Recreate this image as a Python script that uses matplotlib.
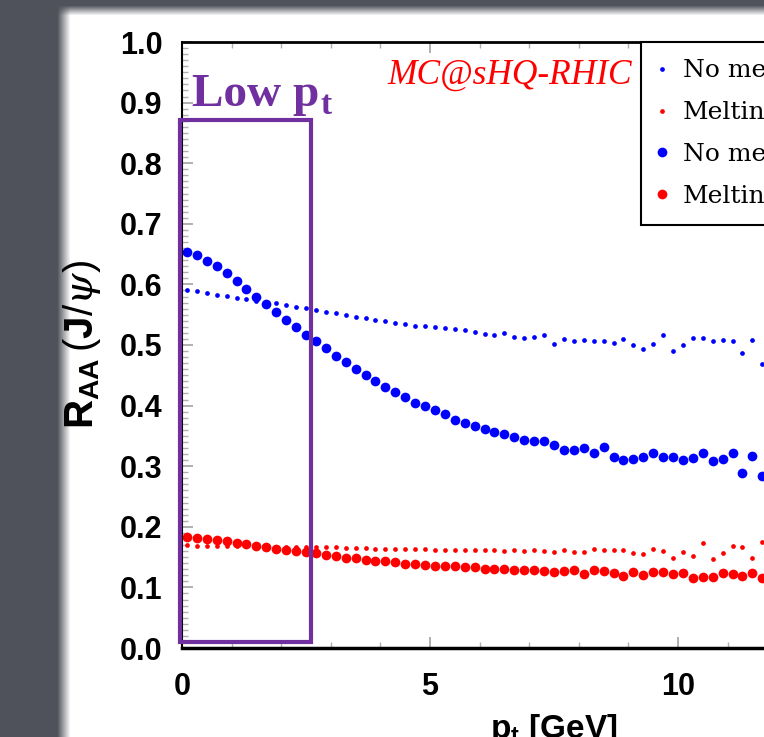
import numpy as np
import matplotlib.pyplot as plt
from matplotlib.patches import Rectangle

plt.rcParams['mathtext.fontset'] = 'custom'
plt.rcParams['mathtext.rm'] = 'Liberation Sans'
plt.rcParams['mathtext.bf'] = 'Liberation Sans:bold'
plt.rcParams['mathtext.it'] = 'DejaVu Serif:italic'

# pt bin centres [GeV]
pt = np.round(np.arange(0.1, 11.8, 0.2), 1)

nomelt_small = [0.591, 0.589, 0.586, 0.583, 0.581, 0.578, 0.576, 0.573, 0.571, 0.569,
                0.566, 0.563, 0.561, 0.557, 0.555, 0.552, 0.550, 0.547, 0.545, 0.542,
                0.539, 0.537, 0.535, 0.532, 0.531, 0.529, 0.528, 0.527, 0.524, 0.522,
                0.518, 0.516, 0.520, 0.513, 0.511, 0.514, 0.517, 0.501, 0.510, 0.506,
                0.508, 0.507, 0.507, 0.504, 0.510, 0.500, 0.493, 0.501, 0.517, 0.490,
                0.500, 0.512, 0.511, 0.507, 0.508, 0.506, 0.487, 0.509, 0.468]
melt_small = [0.170, 0.169, 0.169, 0.168, 0.168, 0.168, 0.168, 0.167, 0.167, 0.167,
              0.167, 0.166, 0.166, 0.166, 0.166, 0.166, 0.165, 0.165, 0.165, 0.164,
              0.164, 0.164, 0.163, 0.163, 0.163, 0.162, 0.162, 0.162, 0.162, 0.162,
              0.161, 0.161, 0.160, 0.162, 0.160, 0.161, 0.160, 0.159, 0.162, 0.159,
              0.158, 0.164, 0.161, 0.162, 0.161, 0.156, 0.155, 0.164, 0.160, 0.149,
              0.158, 0.151, 0.173, 0.147, 0.157, 0.169, 0.166, 0.149, 0.175]
nomelt_big = [0.653, 0.649, 0.639, 0.630, 0.618, 0.605, 0.592, 0.580, 0.567, 0.555,
              0.542, 0.530, 0.517, 0.506, 0.495, 0.482, 0.472, 0.460, 0.450, 0.440,
              0.431, 0.422, 0.414, 0.405, 0.399, 0.392, 0.386, 0.377, 0.372, 0.366,
              0.362, 0.356, 0.353, 0.348, 0.344, 0.341, 0.342, 0.335, 0.327, 0.326,
              0.330, 0.322, 0.331, 0.315, 0.310, 0.312, 0.316, 0.322, 0.315, 0.315,
              0.310, 0.314, 0.322, 0.309, 0.312, 0.322, 0.289, 0.317, 0.284]
melt_big = [0.183, 0.182, 0.180, 0.178, 0.176, 0.174, 0.171, 0.169, 0.166, 0.164,
            0.161, 0.160, 0.159, 0.156, 0.154, 0.152, 0.149, 0.148, 0.146, 0.144,
            0.143, 0.142, 0.139, 0.139, 0.137, 0.136, 0.136, 0.135, 0.133, 0.133,
            0.131, 0.130, 0.131, 0.128, 0.129, 0.129, 0.127, 0.126, 0.127, 0.128,
            0.122, 0.128, 0.127, 0.124, 0.119, 0.125, 0.120, 0.125, 0.126, 0.122,
            0.124, 0.115, 0.117, 0.117, 0.124, 0.122, 0.119, 0.124, 0.116]

labels = ['No melting', 'Melting', 'No melting', 'Melting']

W, H = 764, 737
fig = plt.figure(figsize=(W / 100, H / 100), dpi=100, facecolor='#50535c')

# slide background: white panel with soft edge on dark gray
bg = fig.add_axes([0, 0, 1, 1])
bg.set_axis_off()
fx = np.clip((np.arange(W) - 57) / 13.0, 0, 1)
fy = np.clip((np.arange(H) - 5) / 10.0, 0, 1)
a = np.outer(fy, fx)[..., None]
gray = np.array([0x50, 0x53, 0x5c]) / 255.0
bg.imshow(gray * (1 - a) + a, extent=[0, 1, 0, 1], aspect='auto', origin='upper')
bg.set_xlim(0, 1)
bg.set_ylim(0, 1)

ax = fig.add_axes([182 / W, 89 / H, 744 / W, 606 / H])
ax.set_facecolor('white')

ax.plot(pt, nomelt_small, 'o', color='#0000ff', ms=3.4, mew=0, label=labels[0])
ax.plot(pt, melt_small, 'o', color='#ff0000', ms=3.4, mew=0, label=labels[1])
ax.plot(pt, nomelt_big, 'o', color='#0000ff', ms=7.0, mew=0, label=labels[2])
ax.plot(pt, melt_big, 'o', color='#ff0000', ms=7.0, mew=0, label=labels[3])

ax.set_xlim(0, 15)
ax.set_ylim(0, 1)
ax.set_xticks([0, 5, 10, 15])
ax.set_xticks(np.arange(0, 16, 1), minor=True)
ax.set_yticks(np.round(np.arange(0, 1.01, 0.1), 1))
ax.set_yticks(np.round(np.arange(0, 1.001, 0.01), 2), minor=True)
ax.set_yticklabels(['%.1f' % v for v in np.arange(0, 1.01, 0.1)])
ax.tick_params(which='both', direction='in', top=True, right=True, color='#b0b0b0')
ax.tick_params(which='major', length=8, width=1.4)
ax.tick_params(which='minor', length=4, width=1.0)
ax.tick_params(axis='y', pad=14)
ax.tick_params(axis='x', pad=17)
for lab in ax.get_xticklabels() + ax.get_yticklabels():
    lab.set_fontfamily('Liberation Sans')
    lab.set_fontweight('bold')
    lab.set_fontsize(22)

ax.spines['left'].set_linewidth(1.5)
ax.spines['bottom'].set_linewidth(2.5)
ax.spines['top'].set_linewidth(2.0)

ax.set_ylabel(r'$\mathbf{R}_{\mathbf{AA}}\,(\mathbf{J}/\psi)$', fontsize=29)
ax.yaxis.set_label_coords(-0.106, 0.5)
ax.set_xlabel(r'$\mathbf{p_t}$ [GeV]', fontsize=24, fontweight='bold',
              family='Liberation Sans', va='top')
ax.xaxis.set_label_coords(0.5, -0.105)

leg = ax.legend(loc='upper left', bbox_to_anchor=((641 - 182) / 744, 1.0),
                borderaxespad=0, fancybox=False, edgecolor='black', framealpha=1,
                prop={'family': 'DejaVu Serif', 'size': 18}, handlelength=0.3,
                handletextpad=0.68, labelspacing=0.75, borderpad=0.7)
leg.get_frame().set_linewidth(1.5)

# "Low pt" box
ax.add_patch(Rectangle((-0.04, 0.01), 2.64, 0.861, fill=False, ec='#7030a0',
                       lw=3.0, clip_on=False, zorder=5, joinstyle='miter'))
t1 = ax.text(0.2, 0.895, 'Low p', color='#7030a0', fontsize=34, fontweight='bold',
             family='Liberation Serif', va='baseline')
ax.annotate('t', xy=(1, 0), xycoords=t1, xytext=(1, 1), textcoords='offset points',
            color='#7030a0', fontsize=24, fontweight='bold', family='Liberation Serif',
            va='baseline', ha='left')
ax.text(4.15, 0.932, 'MC@sHQ-RHIC', color='#ff0000', style='italic', fontsize=25.5,
        family='Liberation Serif', va='baseline')

fig.savefig('out.png', dpi=100, facecolor=fig.get_facecolor())
